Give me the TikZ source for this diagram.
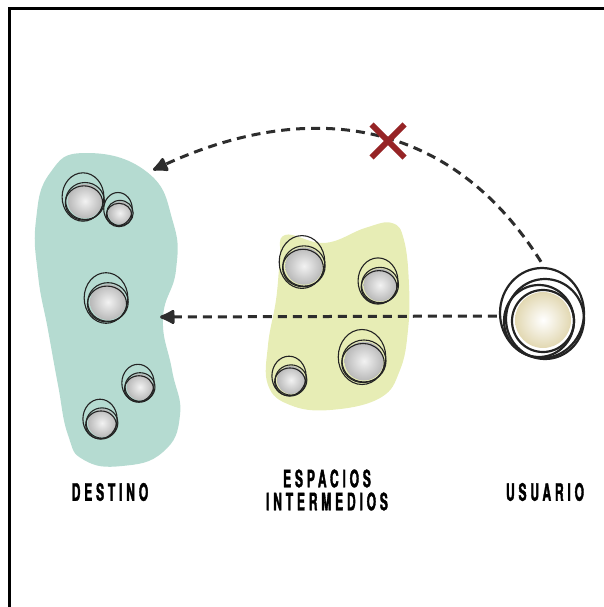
\documentclass[tikz,border=0pt]{standalone}
\usepackage{fontspec}
\usepackage{tikz}
\usetikzlibrary{arrows.meta,shapes.misc}
\newfontfamily\rotulo[FakeStretch=0.5,LetterSpace=16,FakeBold=1.5]{TeX Gyre Heros}
\definecolor{destinoverde}{RGB}{181,219,209}
\definecolor{espaciosgelb}{RGB}{231,237,181}
\definecolor{tinta}{RGB}{35,35,35}
\definecolor{flecha}{RGB}{45,45,45}
\definecolor{crema}{RGB}{226,216,178}
\definecolor{xrojo}{RGB}{150,36,38}
\tikzset{weg/.style={flecha, line width=3pt, dash pattern=on 9pt off 6pt, -{Latex[length=18pt,width=17pt,round]}}}

\begin{document}
\begin{tikzpicture}[x=1pt, y=-1pt, font=\rotulo\bfseries\fontsize{24}{23}\selectfont]
				\useasboundingbox (0,0) rectangle (604,607);
				%Rahmen zeichnen
				\draw[line width=3pt] (604,8.5) -- (9.5,8.5) -- (9.5,607);
				% Flaechen zeichnen
				\fill[destinoverde] plot[smooth cycle, tension=0.8] coordinates {(85,153) (147,172) (173,222) (176,270) (163,318) (172,370) (180,415) (163,452) (122,466) (84,460) (68,435) (58,385) (48,330) (38,275) (36,220) (50,173)};
				\fill[espaciosgelb] plot[smooth cycle, tension=0.7] coordinates {(285,235) (325,243) (365,228) (392,223) (404,240) (409,285) (408,330) (400,370) (380,398) (330,410) (290,405) (268,385) (268,345) (276,300) (280,260)};
				% Kugeln zeichnen
				\foreach \cx/\cy/\r in {83/197/22, 118/209/15, 106/298/23, 138/383/17, 100/419/18, 302/262/24, 378/281/21, 362/357/25, 289/376/18}{
					\shade[inner color=gray!10, outer color=gray!55] (\cx+2,\cy+4) circle ({0.78*\r});
					\draw[tinta, line width=1.1pt] (\cx,\cy) ellipse ({0.95*\r} and {1.1*\r});
					\draw[tinta, line width=1.1pt] (\cx+2,\cy+4) ellipse ({0.88*\r} and {0.84*\r});
					\draw[tinta, line width=1.1pt] (\cx+1,\cy+6) ellipse ({0.85*\r} and {0.78*\r});
				}
				% Usuario
				\node[circle, minimum size=88pt, inner sep=0pt] (usuario) at (541,316) {};
				\shade[inner color=white, outer color=crema] (543,320) circle (28);
				\foreach \dx/\dy/\rx/\ry in {1/-3/42/45, 4/3/39/40, -2/5/35/36, 2/5/31/31}
					\draw[tinta, line width=2.2pt] (541+\dx,316+\dy) ellipse ({\rx} and {\ry});
				% Pfeile zeichnen
				\coordinate (destinoN) at (153,170);
				\coordinate (destinoE) at (160,317);
				\draw[weg] (usuario.west) -- (destinoE);
				\draw[weg] ([yshift=10pt]usuario.north) .. controls (450,117) and (308,99) .. (destinoN);
				\node[cross out, draw=xrojo, line width=6pt, minimum size=27pt, inner sep=0pt] (bloqueo) at (388,141) {};
				%Beschriftung
				\node (destino) at (110,492) {DESTINO};
				\node[align=center] (espacios) at (327,490) {ESPACIOS\\INTERMEDIOS};
				\node (usuariotxt) at (545,492) {USUARIO};
			\end{tikzpicture}
\end{document}
